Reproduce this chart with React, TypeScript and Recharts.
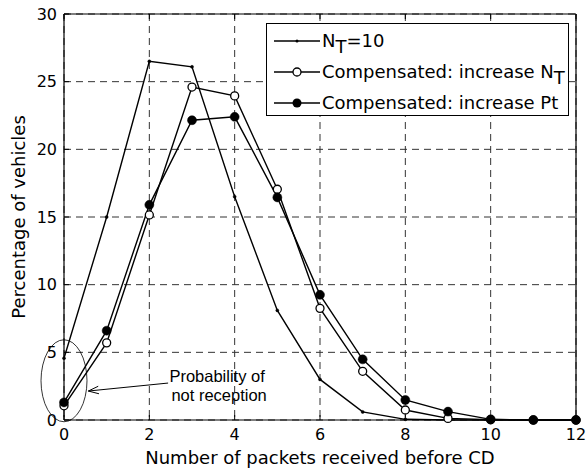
import React from 'react';
import {
  LineChart, Line, XAxis, YAxis, CartesianGrid, Legend, ReferenceDot, ReferenceLine,
} from 'recharts';

// Packets received before CD (x) and share of vehicles in % for each scheme
const packets = [0, 1, 2, 3, 4, 5, 6, 7, 8, 9, 10, 11, 12];
const baseNt10 = [4.56, 15.0, 26.5, 26.1, 16.5, 8.1, 3.0, 0.6, 0.05, 0, 0, 0, 0];
const increaseNt = [1.05, 5.7, 15.15, 24.6, 23.95, 17.05, 8.25, 3.6, 0.74, 0.12, 0.02, 0, 0];
const increasePt = [1.3, 6.6, 15.9, 22.15, 22.4, 16.45, 9.25, 4.48, 1.48, 0.62, 0.05, 0, 0];

const xTicks = [0, 2, 4, 6, 8, 10, 12];
const yTicks = [0, 5, 10, 15, 20, 25, 30];

const chartData = packets.map((p, i) => ({
  packets: p,
  nt10: baseNt10[i],
  incNt: increaseNt[i],
  incPt: increasePt[i],
}));

const FONT = '"DejaVu Sans", sans-serif';
const NOTE_FONT = '"Liberation Sans", Arial, sans-serif';

// legend sample: short line with the series marker in the middle
const LegendSample = ({ kind }: { kind: 'dot' | 'open' | 'filled' }) => (
  <svg width={46} height={16} style={{ display: 'block' }}>
    <line x1={0} y1={8} x2={46} y2={8} stroke="#000" strokeWidth={1.4} />
    {kind === 'dot' && <circle cx={23} cy={8} r={1.5} fill="#000" />}
    {kind === 'open' && <circle cx={23} cy={8} r={4} fill="#fff" stroke="#000" strokeWidth={1.3} />}
    {kind === 'filled' && <circle cx={23} cy={8} r={4.5} fill="#000" />}
  </svg>
);

const sub = (s: string) => <span style={{ position: 'relative', top: 6 }}>{s}</span>;

const legendRows: { kind: 'dot' | 'open' | 'filled'; label: React.ReactNode }[] = [
  { kind: 'dot', label: <>N{sub('T')}=10</> },
  { kind: 'open', label: <>Compensated: increase N{sub('T')}</> },
  { kind: 'filled', label: <>Compensated: increase Pt</> },
];

const renderLegend = () => (
  <div
    style={{
      border: '1px solid #000',
      background: '#fff',
      padding: '1px 0 0 7px',
      fontFamily: FONT,
      fontSize: 18,
      lineHeight: '30px',
      color: '#000',
      boxSizing: 'border-box',
      height: 93,
    }}
  >
    {legendRows.map((row, i) => (
      <div key={i} style={{ display: 'flex', alignItems: 'center', height: 31, whiteSpace: 'nowrap' }}>
        <LegendSample kind={row.kind} />
        <span style={{ marginLeft: 2 }}>{row.label}</span>
      </div>
    ))}
  </div>
);

// ellipse around the x = 0 points
const NoteEllipse = (props: any) => (
  <ellipse cx={props.cx} cy={props.cy} rx={23} ry={41} fill="none" stroke="#000" strokeWidth={0.8} />
);

// arrow pointing at the ellipse, with its caption at the tail
const NoteArrow = (props: any) => {
  const { x1, y1, x2, y2 } = props;
  const ang = Math.atan2(y2 - y1, x2 - x1);
  const len = 11;
  const spread = 0.35;
  const ax = x2 - len * Math.cos(ang - spread);
  const ay = y2 - len * Math.sin(ang - spread);
  const bx = x2 - len * Math.cos(ang + spread);
  const by = y2 - len * Math.sin(ang + spread);
  return (
    <g>
      <line x1={x1} y1={y1} x2={x2} y2={y2} stroke="#000" strokeWidth={1} />
      <polyline points={`${ax},${ay} ${x2},${y2} ${bx},${by}`} fill="none" stroke="#000" strokeWidth={1} />
      <text x={x1 + 49} y={y1 - 1} textAnchor="middle" fontFamily={NOTE_FONT} fontSize={16.5} fill="#000">
        Probability of
      </text>
      <text x={x1 + 51} y={y1 + 18} textAnchor="middle" fontFamily={NOTE_FONT} fontSize={16.5} fill="#000">
        not reception
      </text>
    </g>
  );
};

const XAxisTitle = (props: any) => {
  const vb = props.viewBox;
  return (
    <text x={vb.x + vb.width / 2} y={vb.y + 44} textAnchor="middle" fontFamily={FONT} fontSize={18} fill="#000">
      Number of packets received before CD
    </text>
  );
};

const YAxisTitle = (props: any) => {
  const vb = props.viewBox;
  const cx = vb.x + 21;
  const cy = vb.y + vb.height / 2;
  return (
    <text
      x={cx}
      y={cy}
      transform={`rotate(-90 ${cx} ${cy})`}
      textAnchor="middle"
      fontFamily={FONT}
      fontSize={18}
      fill="#000"
    >
      Percentage of vehicles
    </text>
  );
};

// frame axes on top and right carry tick marks only
const NoLabel = () => <g />;

const tickStyle = { fontFamily: FONT, fontSize: 16, fill: '#000' };

export default function App() {
  return (
    <div style={{ position: 'absolute', left: 0, top: 0, width: 587, height: 471, background: '#fff' }}>
      <LineChart
        width={587}
        height={471}
        data={chartData}
        margin={{ top: 13, right: 10, left: 4, bottom: 5 }}
      >
        <CartesianGrid
          xAxisId="main"
          yAxisId="main"
          stroke="#333"
          strokeDasharray="7 5"
          strokeWidth={1}
          horizontalValues={yTicks}
          verticalValues={xTicks}
        />
        <XAxis
          xAxisId="main"
          dataKey="packets"
          type="number"
          domain={[0, 12]}
          ticks={xTicks}
          height={46}
          tickSize={-5}
          tickMargin={14}
          tick={tickStyle}
          stroke="#000"
          axisLine={{ stroke: '#000', strokeWidth: 1.2 }}
          tickLine={{ stroke: '#000' }}
          label={<XAxisTitle />}
        />
        <XAxis
          xAxisId="top"
          orientation="top"
          dataKey="packets"
          type="number"
          domain={[0, 12]}
          ticks={xTicks}
          height={1}
          tickSize={-5}
          tick={<NoLabel />}
          axisLine={{ stroke: '#000', strokeWidth: 1.2 }}
          tickLine={{ stroke: '#000' }}
        />
        <YAxis
          yAxisId="main"
          type="number"
          domain={[0, 30]}
          ticks={yTicks}
          width={60}
          tickSize={-5}
          tickMargin={12}
          tick={tickStyle}
          axisLine={{ stroke: '#000', strokeWidth: 1.2 }}
          tickLine={{ stroke: '#000' }}
          label={<YAxisTitle />}
        />
        <YAxis
          yAxisId="right"
          orientation="right"
          type="number"
          domain={[0, 30]}
          ticks={yTicks}
          width={1}
          tickSize={-5}
          tick={<NoLabel />}
          axisLine={{ stroke: '#000', strokeWidth: 1.2 }}
          tickLine={{ stroke: '#000' }}
        />
        <Line
          xAxisId="main"
          yAxisId="main"
          dataKey="nt10"
          name="nt10"
          stroke="#000"
          strokeWidth={1.4}
          dot={{ r: 1.5, fill: '#000', stroke: '#000', strokeWidth: 0.5 }}
          isAnimationActive={false}
        />
        <Line
          xAxisId="main"
          yAxisId="main"
          dataKey="incNt"
          name="incNt"
          stroke="#000"
          strokeWidth={1.4}
          dot={{ r: 4, fill: '#fff', stroke: '#000', strokeWidth: 1.3 }}
          isAnimationActive={false}
        />
        <Line
          xAxisId="main"
          yAxisId="main"
          dataKey="incPt"
          name="incPt"
          stroke="#000"
          strokeWidth={1.4}
          dot={{ r: 4.5, fill: '#000', stroke: '#000', strokeWidth: 0.5 }}
          isAnimationActive={false}
        />
        <ReferenceDot xAxisId="main" yAxisId="main" x={0} y={2.9} shape={NoteEllipse} ifOverflow="visible" />
        <ReferenceLine
          xAxisId="main"
          yAxisId="main"
          segment={[{ x: 2.44, y: 2.73 }, { x: 0.57, y: 2.14 }]}
          shape={NoteArrow}
          ifOverflow="visible"
        />
        <Legend
          layout="vertical"
          align="center"
          verticalAlign="middle"
          content={renderLegend}
          wrapperStyle={{ left: 266, top: 23, width: 303, height: 93 }}
        />
      </LineChart>
    </div>
  );
}
